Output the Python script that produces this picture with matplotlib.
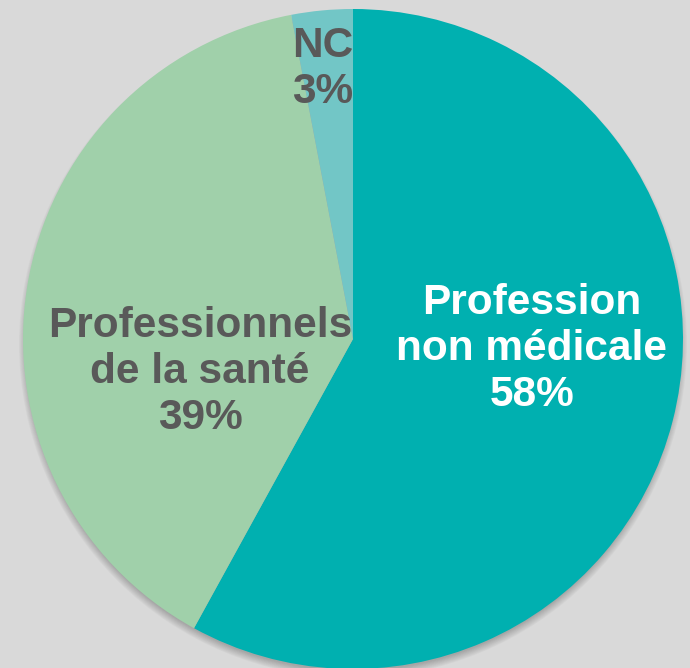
import matplotlib
matplotlib.use("Agg")
import matplotlib.pyplot as plt
from matplotlib.patches import Circle

labels = ["Profession\nnon médicale", "Professionnels\nde la santé", "NC"]
values = [58, 39, 3]
colors = ["#00B0B0", "#A0D0AA", "#72C6C6"]
text_colors = ["white", "#595959", "#595959"]

W, H = 690, 668
fig = plt.figure(figsize=(W / 100, H / 100), dpi=100)
fig.patch.set_facecolor("#D9D9D9")
ax = fig.add_axes([0, 0, 1, 1])
ax.set_xlim(0, W)
ax.set_ylim(0, H)
ax.set_aspect("equal")
ax.axis("off")

cx, cy, r = 353, H - 339, 330

# soft shadow (mostly below the pie)
for i in range(10):
    ax.add_patch(Circle((cx, cy - 5), r + 4 - i * 0.8, color="black", alpha=0.025, lw=0, zorder=0))

wedges, _ = ax.pie(values, colors=colors, startangle=90, counterclock=False,
                   center=(cx, cy), radius=r, wedgeprops=dict(linewidth=0))
for w in wedges:
    w.set_zorder(2)

positions = [(532, H - 349), (200, H - 372), (323, H - 69)]
for lab, v, (x, y), tc in zip(labels, values, positions, text_colors):
    ax.text(x, y, f"{lab}\n{v}%", ha="center", va="center", color=tc,
            fontsize=30.5, fontweight="bold", family="Liberation Sans",
            linespacing=1.18, zorder=3)

ax.set_xlim(0, W)
ax.set_ylim(0, H)
fig.savefig("out.png", dpi=100, facecolor=fig.get_facecolor())
